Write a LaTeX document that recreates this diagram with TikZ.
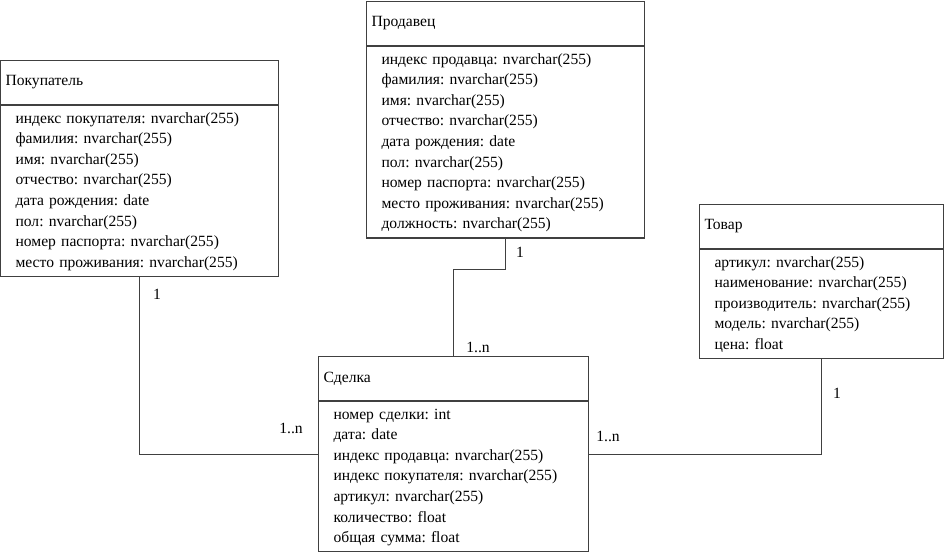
\documentclass[tikz,border=0pt]{standalone}
\usepackage{fontspec}
\setmainfont{Liberation Serif}
\usetikzlibrary{positioning,fit}
\frenchspacing

\begin{document}
\begin{tikzpicture}[
  x=1pt, y=-1pt,
  every node/.style={font=\fontsize{15.6}{20.6}\selectfont},
  head/.style={rectangle, draw=black!75, line width=1.1pt, minimum height=44pt,
    inner xsep=5pt, inner ysep=0pt, text width={#1-10pt}, align=left, anchor=north west},
  body/.style={rectangle, draw=black!75, line width=1.1pt, inner xsep=15pt, inner ysep=3pt,
    text width={#1-30pt}, align=left, execute at begin node=\strut, execute at end node=\strut},
  whole/.style={inner sep=0pt},
  link/.style={draw=black!75, line width=1.1pt},
  mult/.style={inner sep=0pt}
]
\useasboundingbox (0,0) rectangle (945,556);

% Buyer
\node[head=278pt] (buyerhead) at (0,60) {Покупатель};
\node[body=278pt, below=0pt of buyerhead] (buyerbody) {индекс покупателя: nvarchar(255)\\фамилия: nvarchar(255)\\имя: nvarchar(255)\\отчество: nvarchar(255)\\дата рождения: date\\пол: nvarchar(255)\\номер паспорта: nvarchar(255)\\место проживания: nvarchar(255)};
\node[whole, fit=(buyerhead)(buyerbody)] (buyer) {};

% Seller
\node[head=278pt] (sellerhead) at (366,1) {Продавец};
\node[body=278pt, below=0pt of sellerhead] (sellerbody) {индекс продавца: nvarchar(255)\\фамилия: nvarchar(255)\\имя: nvarchar(255)\\отчество: nvarchar(255)\\дата рождения: date\\пол: nvarchar(255)\\номер паспорта: nvarchar(255)\\место проживания: nvarchar(255)\\должность: nvarchar(255)};
\node[whole, fit=(sellerhead)(sellerbody)] (seller) {};

% Product
\node[head=244pt] (producthead) at (699,204) {Товар};
\node[body=244pt, below=0pt of producthead] (productbody) {артикул: nvarchar(255)\\наименование: nvarchar(255)\\производитель: nvarchar(255)\\модель: nvarchar(255)\\цена: float};
\node[whole, fit=(producthead)(productbody)] (product) {};

% Deal
\node[head=270pt] (dealhead) at (318,356) {Сделка};
\node[body=270pt, below=0pt of dealhead] (dealbody) {номер сделки: int\\дата: date\\индекс продавца: nvarchar(255)\\индекс покупателя: nvarchar(255)\\артикул: nvarchar(255)\\количество: float\\общая сумма: float};
\node[whole, fit=(dealhead)(dealbody)] (deal) {};

% Links
\draw[link] (buyer.south) |- (deal.west);
\draw[link] (seller.south) -- ++(0,31) -| (deal.north);
\draw[link] (product.south) |- (deal.east);

% Multiplicities
\node[mult] (buyerone) at (157,294) {1};
\node[mult] (buyermany) at (291,428) {1..n};
\node[mult] (sellerone) at (520,252) {1};
\node[mult] (sellermany) at (478,347) {1..n};
\node[mult] (productone) at (837,393) {1};
\node[mult] (productmany) at (608,436) {1..n};

\end{tikzpicture}
\end{document}
